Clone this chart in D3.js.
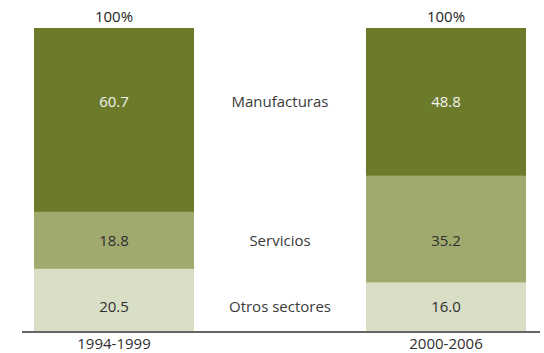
<!DOCTYPE html>
<html>
<head>
<meta charset="utf-8">
<script src="https://cdn.jsdelivr.net/npm/d3@7"></script>
<style>
  html, body { margin: 0; padding: 0; background: #fff; }
  svg text { font-family: "Open Sans", "DejaVu Sans", sans-serif; }
</style>
</head>
<body>
<svg id="chart" width="544" height="353"></svg>
<script>
// Periods on the x axis
const periods = ["1994-1999", "2000-2006"];
// Sectors, stacked from the bottom up
const sectors = ["Otros sectores", "Servicios", "Manufacturas"];
// Share (%) of each sector per period, same order as sectors
const otros = [20.5, 16.0];
const servicios = [18.8, 35.2];
const manufacturas = [60.7, 48.8];
const totalLabel = "100%";

const series = [otros, servicios, manufacturas];
const colors = ["#d9dec6", "#a1aa6e", "#6b7b29"];
const valueColors = ["#2e2e2e", "#2e2e2e", "#f4f4f4"];

const svg = d3.select("#chart");

const x = d3.scaleBand().domain(periods).range([34, 526]).paddingInner(0.518).paddingOuter(0);
const y = d3.scaleLinear().domain([0, 100]).range([331, 28]);

// Stack the data
const rows = periods.map((p, i) => {
  const r = { period: p };
  sectors.forEach((s, k) => { r[s] = series[k][i]; });
  return r;
});
const stacked = d3.stack().keys(sectors)(rows);

const fs = 15;

// Bars
const layers = svg.append("g").selectAll("g")
  .data(stacked)
  .join("g")
  .attr("fill", (d, k) => colors[k]);

layers.selectAll("rect")
  .data(d => d)
  .join("rect")
  .attr("x", d => x(d.data.period))
  .attr("width", x.bandwidth())
  .attr("y", d => y(d[1]))
  .attr("height", d => y(d[0]) - y(d[1]));

// Row position for each sector: middle of the part shared by both bars
const rowY = stacked.map(layer => {
  const lo = d3.max(layer, d => d[0]);
  const hi = d3.min(layer, d => d[1]);
  return y((lo + hi) / 2);
});

// Value labels inside the bars
stacked.forEach((layer, k) => {
  svg.append("g").selectAll("text")
    .data(layer)
    .join("text")
    .attr("x", d => x(d.data.period) + x.bandwidth() / 2)
    .attr("y", rowY[k])
    .attr("dy", "0.36em")
    .attr("text-anchor", "middle")
    .attr("font-size", fs)
    .attr("fill", valueColors[k])
    .text(d => d3.format(".1f")(d[1] - d[0]));
});

// Sector names between the bars
const midX = (x(periods[0]) + x.bandwidth() + x(periods[1])) / 2;
svg.append("g").selectAll("text")
  .data(sectors)
  .join("text")
  .attr("x", midX)
  .attr("y", (d, k) => rowY[k])
  .attr("dy", "0.36em")
  .attr("text-anchor", "middle")
  .attr("font-size", fs)
  .attr("fill", "#3a3a3a")
  .text(d => d);

// Totals above the bars
svg.append("g").selectAll("text")
  .data(periods)
  .join("text")
  .attr("x", d => x(d) + x.bandwidth() / 2)
  .attr("y", y(100) - 6)
  .attr("text-anchor", "middle")
  .attr("font-size", fs)
  .attr("fill", "#1e1e1e")
  .text(totalLabel);

// Baseline axis with period labels
const axis = svg.append("g").attr("transform", `translate(0,${y(0) + 1})`)
  .call(d3.axisBottom(x).tickSize(0).tickPadding(6));
axis.select(".domain").remove();
axis.selectAll("text")
  .attr("font-size", fs)
  .attr("fill", "#2e2e2e")
  .attr("font-family", "'Open Sans', 'DejaVu Sans', sans-serif");
axis.append("line")
  .attr("x1", 22).attr("x2", 540)
  .attr("stroke", "#666").attr("stroke-width", 2.2);
</script>
</body>
</html>
